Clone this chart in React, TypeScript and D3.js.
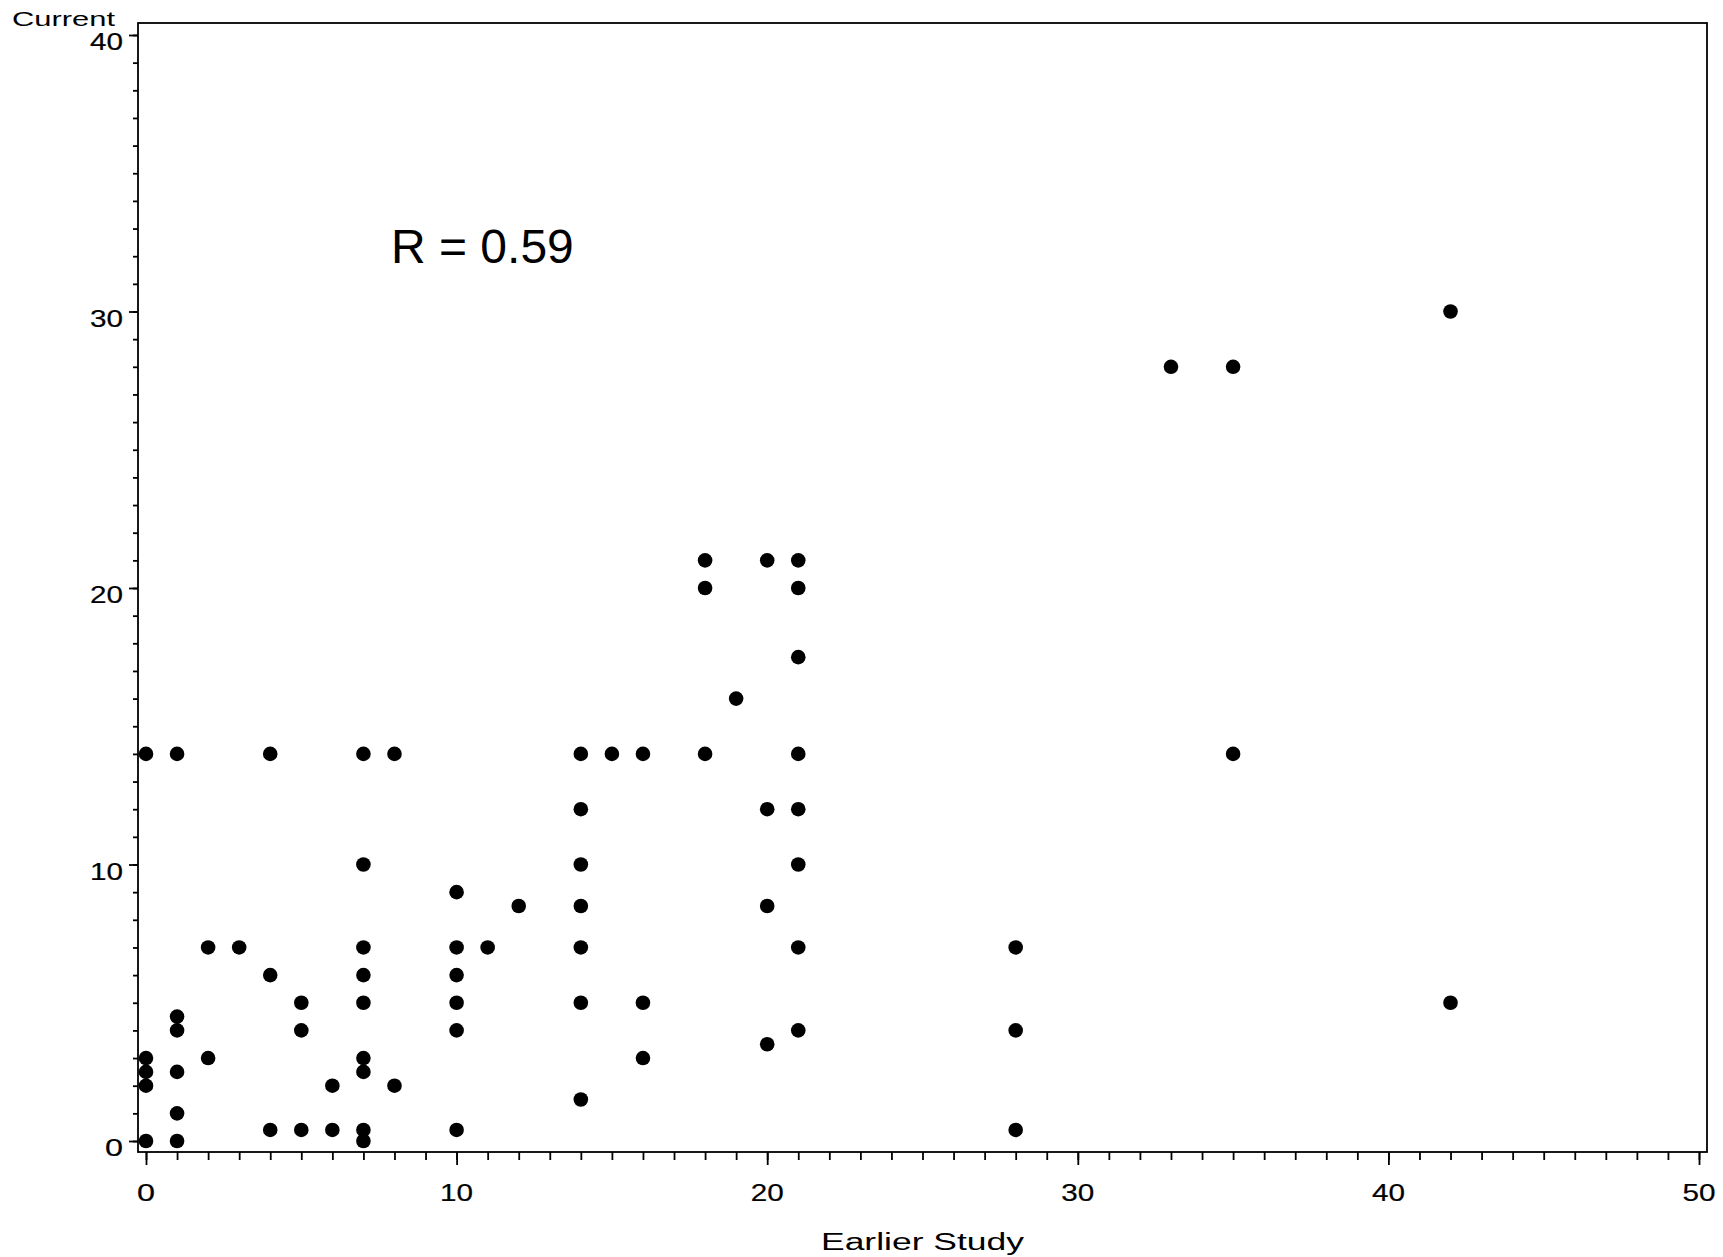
import * as d3 from "d3";
import { useEffect, useRef } from "react";

// Earlier study value (x) and current value (y) for each subject
const earlier = [
  0, 1, 4, 7, 8, 14, 15, 16, 18, 21, 35,
  18, 18, 20, 21, 21, 21, 19,
  14, 20, 21, 7, 14, 21, 10, 12, 14, 20,
  2, 3, 7, 10, 11, 14, 21, 28,
  4, 7, 10, 5, 7, 10, 14, 16, 42,
  1, 1, 5, 10, 21, 28, 20,
  0, 2, 7, 16, 0, 1, 7, 0, 6, 8, 14, 1,
  4, 5, 6, 7, 10, 28, 0, 1, 7,
  33, 35, 42,
];
const current = [
  14, 14, 14, 14, 14, 14, 14, 14, 14, 14, 14,
  21, 20, 21, 21, 20, 17.5, 16,
  12, 12, 12, 10, 10, 10, 9, 8.5, 8.5, 8.5,
  7, 7, 7, 7, 7, 7, 7, 7,
  6, 6, 6, 5, 5, 5, 5, 5, 5,
  4.5, 4, 4, 4, 4, 4, 3.5,
  3, 3, 3, 3, 2.5, 2.5, 2.5, 2, 2, 2, 1.5, 1,
  0.4, 0.4, 0.4, 0.4, 0.4, 0.4, 0, 0, 0,
  28, 28, 30,
];

const xTickLabels = ["0", "10", "20", "30", "40", "50"];
const yTickLabels = ["0", "10", "20", "30", "40"];

const W = 1723;
const H = 1257;
const FONT = "'Liberation Sans', Arial, sans-serif";

export default function App() {
  const ref = useRef<SVGSVGElement>(null);

  useEffect(() => {
    const svg = d3.select(ref.current);
    svg.selectAll("*").remove();

    // frame and scales
    const frame = { left: 138, top: 23, right: 1707, bottom: 1152 };
    const x = d3.scaleLinear().domain([0, 50]).range([146, 1699]);
    const y = d3.scaleLinear().domain([0, 40]).range([1141, 35]);

    svg
      .append("rect")
      .attr("x", frame.left)
      .attr("y", frame.top)
      .attr("width", frame.right - frame.left)
      .attr("height", frame.bottom - frame.top)
      .attr("fill", "none")
      .attr("stroke", "#000")
      .attr("stroke-width", 1.8);

    // minor + major ticks, left axis
    const yMinor = svg.append("g").attr("transform", `translate(${frame.left},0)`)
      .call(d3.axisLeft(y).tickValues(d3.range(0, 41)).tickSize(5).tickFormat(() => ""));
    const yMajor = svg.append("g").attr("transform", `translate(${frame.left},0)`)
      .call(d3.axisLeft(y).tickValues(yTickLabels.map(Number)).tickSize(9).tickFormat(() => ""));

    // minor + major ticks, bottom axis
    const xMinor = svg.append("g").attr("transform", `translate(0,${frame.bottom})`)
      .call(d3.axisBottom(x).tickValues(d3.range(0, 51)).tickSize(8).tickFormat(() => ""));
    const xMajor = svg.append("g").attr("transform", `translate(0,${frame.bottom})`)
      .call(d3.axisBottom(x).tickValues(xTickLabels.map(Number)).tickSize(13).tickFormat(() => ""));

    [yMinor, yMajor, xMinor, xMajor].forEach((g) => {
      g.select(".domain").remove();
      g.selectAll("line").attr("stroke", "#000").attr("stroke-width", 1.8);
    });

    // stretched tick labels
    const widthFor = (s: string) => (s.length === 1 ? 18 : 33);

    svg.append("g")
      .selectAll("text")
      .data(yTickLabels)
      .join("text")
      .attr("x", 123)
      .attr("y", (d) => y(+d) + 15)
      .attr("text-anchor", "end")
      .attr("textLength", widthFor)
      .attr("lengthAdjust", "spacingAndGlyphs")
      .attr("stroke", "#000")
      .attr("stroke-width", 0.2)
      .style("font-family", FONT)
      .style("font-size", "23px")
      .text((d) => d);

    svg.append("g")
      .selectAll("text")
      .data(xTickLabels)
      .join("text")
      .attr("x", (d) => x(+d))
      .attr("y", 1201)
      .attr("text-anchor", "middle")
      .attr("textLength", widthFor)
      .attr("lengthAdjust", "spacingAndGlyphs")
      .attr("stroke", "#000")
      .attr("stroke-width", 0.2)
      .style("font-family", FONT)
      .style("font-size", "23px")
      .text((d) => d);

    // axis titles
    svg.append("text")
      .attr("x", 12)
      .attr("y", 26)
      .attr("textLength", 103)
      .attr("lengthAdjust", "spacingAndGlyphs")
      .style("font-family", FONT)
      .style("font-size", "20px")
      .text("Current");

    svg.append("text")
      .attr("x", 821)
      .attr("y", 1250)
      .attr("textLength", 203)
      .attr("lengthAdjust", "spacingAndGlyphs")
      .style("font-family", FONT)
      .style("font-size", "23px")
      .text("Earlier Study");

    // correlation annotation
    svg.append("text")
      .attr("x", 391)
      .attr("y", 263)
      .style("font-family", FONT)
      .style("font-size", "48px")
      .text("R = 0.59");

    // points
    svg.append("g")
      .selectAll("circle")
      .data(earlier.map((e, i) => [e, current[i]]))
      .join("circle")
      .attr("cx", (d) => x(d[0]))
      .attr("cy", (d) => y(d[1]))
      .attr("r", 7.3)
      .attr("fill", "#000");
  }, []);

  return (
    <svg
      ref={ref}
      width={W}
      height={H}
      style={{ position: "absolute", left: 0, top: 0, background: "#fff" }}
    />
  );
}
